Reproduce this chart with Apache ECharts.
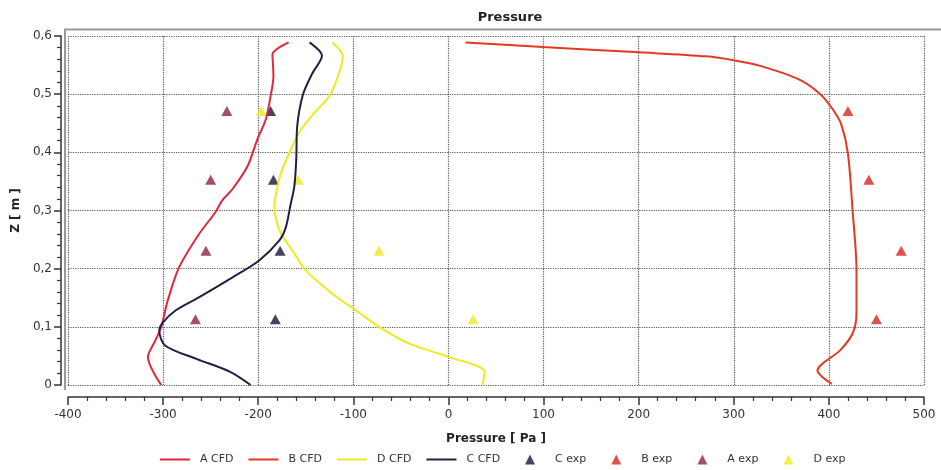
<!DOCTYPE html>
<html>
<head>
<meta charset="utf-8">
<script src="https://cdn.jsdelivr.net/npm/echarts@6/dist/echarts.min.js"></script>
<style>
    html, body { margin: 0; padding: 0; background: #fff; }
    #chart { width: 941px; height: 470px; }
</style>
</head>
<body>
<div id="chart"></div>
<script>
// CFD profiles: pressure [Pa] and height z [m], read top to bottom
var aCfdP = [-168, -185, -184, -187, -192, -201, -211, -227, -238, -245, -262, -283, -295, -302, -308, -316, -302]
var aCfdZ = [0.589, 0.568, 0.531, 0.497, 0.457, 0.422, 0.377, 0.337, 0.317, 0.297, 0.26, 0.203, 0.146, 0.1, 0.077, 0.048, 0]

var bCfdP = [18, 99, 201, 271, 301, 327, 369, 391, 404, 413, 420, 425, 429, 429, 425, 412, 388, 403]
var bCfdZ = [0.589, 0.581, 0.572, 0.565, 0.558, 0.549, 0.525, 0.5, 0.474, 0.448, 0.398, 0.298, 0.199, 0.123, 0.089, 0.06, 0.025, 0.002]

var dCfdP = [-122, -111, -115, -125, -141, -157, -167, -176, -181, -183, -181, -176, -164, -150, -122, -97, -73, -41, 1, 38, 36]
var dCfdZ = [0.589, 0.565, 0.536, 0.497, 0.468, 0.434, 0.4, 0.365, 0.331, 0.308, 0.283, 0.26, 0.231, 0.197, 0.157, 0.128, 0.1, 0.071, 0.048, 0.023, 0]

var cCfdP = [-146, -133, -143, -153, -159, -160, -162, -166, -171, -178, -199, -227, -262, -287, -301, -304, -298, -265, -230, -208]
var cCfdZ = [0.589, 0.566, 0.536, 0.499, 0.445, 0.388, 0.342, 0.31, 0.271, 0.248, 0.214, 0.185, 0.151, 0.128, 0.106, 0.094, 0.068, 0.045, 0.023, 0]

// measurements
var expZ = [0.471, 0.353, 0.231, 0.113]
var cExpP = [-187, -184, -177, -182]
var bExpP = [420, 442, 476, 450]
var aExpP = [-233, -250, -255, -266]
var dExpP = [-197, -158, -73, 26]

var cfdNames = ['A CFD', 'B CFD', 'D CFD', 'C CFD']
var expNames = ['C exp', 'B exp', 'A exp', 'D exp']

function pairs(p, z) {
    return p.map(function (v, i) { return [v, z[i]] })
}

var font = 'DejaVu Sans'

function cfd(name, p, z, color) {
    return {
        name: name,
        type: 'line',
        data: pairs(p, z),
        symbol: 'none',
        smooth: 0.3,
        lineStyle: { color: color, width: 2 },
        itemStyle: { color: color }
    }
}

function exp(name, p, color) {
    return {
        name: name,
        type: 'scatter',
        data: pairs(p, expZ),
        symbol: 'triangle',
        symbolSize: [11, 10],
        itemStyle: { color: color }
    }
}

var option = {
    backgroundColor: '#fff',
    animation: false,
    title: {
        text: 'Pressure',
        left: 505,
        top: 6,
        textAlign: 'center',
        textStyle: { fontFamily: font, fontSize: 13, fontWeight: 'bold', color: '#222' }
    },
    graphic: [{
        type: 'polyline',
        shape: { points: [[65, 390], [65, 29.5], [945, 29.5]] },
        style: { stroke: '#999', lineWidth: 2, fill: null },
        silent: true
    }],
    grid: { left: 68, right: 17, top: 36, bottom: 85 },
    legend: [{
        data: cfdNames,
        icon: 'rect',
        left: 155,
        top: 449,
        itemWidth: 30,
        itemHeight: 2,
        itemGap: 15,
        textStyle: { fontFamily: font, fontSize: 11, color: '#333', padding: [0, 0, 0, 5] }
    }, {
        data: expNames,
        icon: 'triangle',
        left: 520,
        top: 449,
        itemWidth: 10,
        itemHeight: 10,
        itemGap: 25,
        textStyle: { fontFamily: font, fontSize: 11, color: '#333', padding: [0, 0, 0, 15] }
    }],
    xAxis: {
        type: 'value',
        min: -400,
        max: 500,
        interval: 100,
        offset: 12,
        name: 'Pressure [ Pa ]',
        nameLocation: 'middle',
        nameGap: 36,
        nameTextStyle: { fontFamily: font, fontSize: 12, fontWeight: 'bold', color: '#222' },
        axisLine: { show: true, onZero: false, lineStyle: { color: '#333', width: 1.5 } },
        axisTick: { show: true, length: 8, lineStyle: { color: '#333', width: 1.5 } },
        minorTick: { show: true, splitNumber: 5, length: 4, lineStyle: { color: '#333', width: 1.2 } },
        axisLabel: { margin: 12, fontFamily: font, fontSize: 12, color: '#333' },
        splitLine: { show: true, lineStyle: { color: '#555', type: 'dotted', width: 1.2 } }
    },
    yAxis: {
        type: 'value',
        min: 0,
        max: 0.6,
        interval: 0.1,
        offset: 7,
        name: 'Z [ m ]',
        nameLocation: 'middle',
        nameRotate: 90,
        nameGap: 39,
        nameTextStyle: { fontFamily: font, fontSize: 12, fontWeight: 'bold', color: '#222' },
        axisLine: { show: true, onZero: false, lineStyle: { color: '#333', width: 1.5 } },
        axisTick: { show: true, length: 7, lineStyle: { color: '#333', width: 1.5 } },
        minorTick: { show: true, splitNumber: 5, length: 4, lineStyle: { color: '#333', width: 1.2 } },
        axisLabel: {
            margin: 9, fontFamily: font, fontSize: 12, color: '#333',
            formatter: function (v) { return v === 0 ? '0' : v.toFixed(1).replace('.', ',') }
        },
        splitLine: { show: true, lineStyle: { color: '#555', type: 'dotted', width: 1.2 } }
    },
    series: [
        cfd('A CFD', aCfdP, aCfdZ, '#e3263c'),
        cfd('B CFD', bCfdP, bCfdZ, '#e23a22'),
        cfd('D CFD', dCfdP, dCfdZ, '#f0ea1c'),
        cfd('C CFD', cCfdP, cCfdZ, '#1e2142'),
        exp('C exp', cExpP, '#15183a'),
        exp('B exp', bExpP, '#d8261c'),
        exp('A exp', aExpP, '#8c2446'),
        exp('D exp', dExpP, '#efe81e')
    ]
}

var chart = echarts.init(document.getElementById('chart'))
chart.setOption(option)
</script>
</body>
</html>
